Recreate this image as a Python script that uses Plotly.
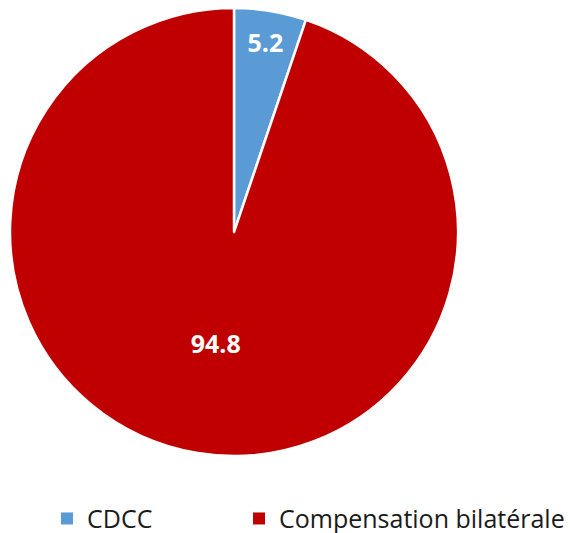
import plotly.graph_objects as go

labels = ["CDCC", "Compensation bilatérale"]
values = [5.2, 94.8]
colors = ["#5B9BD5", "#C00000"]

fig = go.Figure(
    go.Pie(
        labels=labels,
        values=values,
        sort=False,
        direction="clockwise",
        rotation=0,
        marker=dict(colors=colors, line=dict(color="white", width=2.5)),
        texttemplate="%{value:.1f}",
        textposition="inside",
        insidetextorientation="horizontal",
        textfont=dict(family="Open Sans", size=25, color="white", weight="bold"),
        hoverinfo="label+value",
        showlegend=False,
    )
)

# One legend per category so the two entries can be spaced independently
legend_ids = ["legend", "legend2"]
for name, color, lid in zip(labels, colors, legend_ids):
    fig.add_trace(
        go.Scatter(
            x=[None],
            y=[None],
            mode="markers",
            name=name,
            marker=dict(symbol="square", size=12, color=color),
            legend=lid,
            showlegend=True,
            hoverinfo="skip",
        )
    )

legend_style = dict(
    orientation="h",
    xref="container",
    yref="paper",
    xanchor="left",
    yanchor="middle",
    y=-0.14,
    font=dict(size=25, color="#1a1a1a"),
    itemwidth=30,
    bgcolor="rgba(0,0,0,0)",
)

fig.update_layout(
    width=570,
    height=533,
    margin=dict(l=10, r=112, t=8, b=77, autoexpand=False),
    paper_bgcolor="white",
    plot_bgcolor="white",
    font=dict(family="Open Sans", color="#1a1a1a"),
    xaxis=dict(visible=False),
    yaxis=dict(visible=False),
    legend=dict(legend_style, x=47 / 570),
    legend2=dict(legend_style, x=239 / 570),
)

fig.write_html("out.html")
